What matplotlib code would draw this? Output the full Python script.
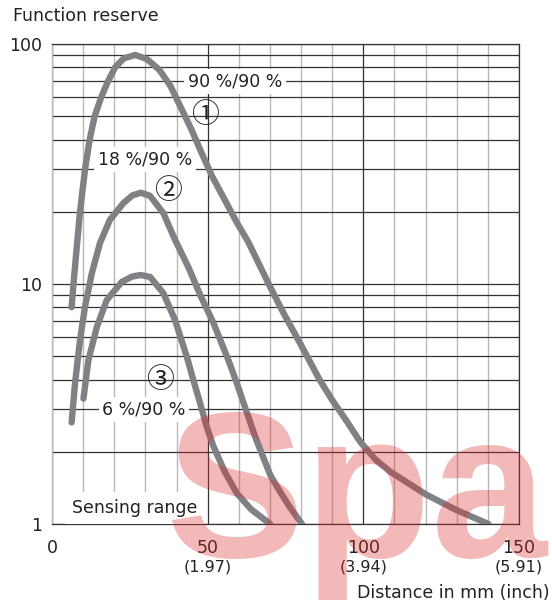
import matplotlib
matplotlib.use("Agg")
import matplotlib.pyplot as plt
from matplotlib.ticker import FixedLocator, NullFormatter

# ---------------- data ----------------
c1_x = [6.3, 6.9, 7.9, 9.0, 10.6, 12.1, 13.7, 15.8, 18.0, 20.3, 23.0, 26.7,
        30.5, 34.5, 38.0, 41.5, 44.8, 47.9, 51.5, 55.5, 59.4, 63.0, 66.5, 69.6,
        74.4, 79.7, 86.0, 89.9, 94.5, 99.0, 104.0, 108.7, 120.0,
        130.1, 140.2]
c1_y = [8.0, 10.0, 14.0, 20.0, 30.0, 40.0, 50.0, 60.0, 70.0, 80.0, 87.0, 90.0,
        86.5, 78.0, 67.0, 54.0, 44.0, 35.5, 28.0, 22.4, 18.0, 15.0, 12.1, 10.0,
        7.55, 5.66, 3.98, 3.3, 2.7, 2.2, 1.85, 1.65, 1.33,
        1.14, 1.0]

c2_x = [6.3, 7.4, 9.0, 10.6, 12.8, 15.4, 18.6, 22.9, 25.8, 28.5, 31.5, 35.8,
        39.5, 44.0, 47.6, 51.9, 56.7, 59.4, 65.3, 70.1, 73.3, 76.5, 80.3]
c2_y = [2.65, 3.86, 5.84, 8.04, 11.1, 14.8, 18.5, 21.7, 23.4, 24.0, 23.3, 19.7,
        15.3, 11.6, 9.0, 6.86, 4.8, 3.85, 2.3, 1.6, 1.36, 1.17, 1.0]

c3_x = [10.1, 11.7, 14.4, 17.6, 22.4, 25.8, 28.5, 31.5, 35.8, 39.5, 43.3,
        45.4, 47.6, 49.7, 51.9, 55.5, 59.4, 64.0, 70.1]
c3_y = [3.33, 4.82, 6.62, 8.58, 10.2, 10.75, 10.9, 10.7, 9.15, 7.08, 4.98,
        3.98, 3.18, 2.54, 2.1, 1.65, 1.34, 1.15, 1.0]

curve_labels = ["90 %/90 %", "18 %/90 %", "6 %/90 %"]
curve_marks = ["\u2460", "\u2461", "\u2462"]
x_ticks = [0, 50, 100, 150]
x_tick_labels = ["0", "50", "100", "150"]
x_inch_labels = ["(1.97)", "(3.94)", "(5.91)"]
y_ticks = [1, 10, 100]
y_tick_labels = ["1", "10", "100"]

# ---------------- style ----------------
plt.rcParams['font.family'] = ['DejaVu Sans', 'Noto Sans CJK JP']
W, H, DPI = 552, 607, 100
fig = plt.figure(figsize=(W / DPI, H / DPI), dpi=DPI)
ax = fig.add_axes([52 / W, 1 - 524 / H, 467 / W, 480 / H])

ax.set_yscale('log')
ax.set_xlim(0, 150)
ax.set_ylim(1, 100)

dark = '#333333'
light = '#b8b8b8'
curve_col = '#808185'
txt_col = '#222222'

# grid
ax.yaxis.set_major_locator(FixedLocator(y_ticks))
ax.yaxis.set_minor_locator(FixedLocator([m * d for d in (1, 10) for m in range(2, 10)]))
ax.yaxis.set_minor_formatter(NullFormatter())
ax.set_yticklabels(y_tick_labels)
ax.xaxis.set_major_locator(FixedLocator(x_ticks))
ax.xaxis.set_minor_locator(FixedLocator([v for v in range(10, 150, 10) if v % 50]))
ax.set_xticklabels(x_tick_labels)

ax.grid(True, axis='y', which='both', color=dark, lw=0.9, zorder=1)
ax.grid(True, axis='x', which='minor', color=light, lw=1.0, zorder=1)
ax.grid(True, axis='x', which='major', color=dark, lw=0.9, zorder=1)
ax.set_axisbelow(True)

ax.tick_params(axis='both', which='both', length=0, colors=txt_col, labelsize=12.5)
ax.tick_params(axis='x', pad=11)
ax.tick_params(axis='y', pad=7)

for s in ('top', 'right', 'bottom'):
    ax.spines[s].set_color(dark)
    ax.spines[s].set_linewidth(0.9)
ax.spines['left'].set_color(light)
ax.spines['left'].set_linewidth(1.0)

# curves
for xs, ys in ((c1_x, c1_y), (c2_x, c2_y), (c3_x, c3_y)):
    ax.plot(xs, ys, color=curve_col, lw=4.6, solid_capstyle='round',
            solid_joinstyle='round', zorder=4)

# labels with white boxes
box = dict(facecolor='white', edgecolor='none', pad=2.5)
ax.text(58.8, 70, curve_labels[0], ha='center', va='center', fontsize=12.5,
        color=txt_col, bbox=box, zorder=3)
ax.text(29.9, 32.9, curve_labels[1], ha='center', va='center', fontsize=12.5,
        color=txt_col, bbox=box, zorder=3)
ax.text(29.6, 3.0, curve_labels[2], ha='center', va='center', fontsize=12.5,
        color=txt_col, bbox=box, zorder=3)

mark_font = ['Noto Sans CJK JP', 'DejaVu Sans']
ax.text(49.2, 50.6, curve_marks[0], ha='center', va='center', fontsize=20,
        family=mark_font, color=txt_col, zorder=5)
ax.text(37.3, 24.4, curve_marks[1], ha='center', va='center', fontsize=20,
        family=mark_font, color=txt_col, zorder=5)
ax.text(34.7, 3.98, curve_marks[2], ha='center', va='center', fontsize=20,
        family=mark_font, color=txt_col, zorder=5)

ax.text(26.5, 1.166, "Sensing range", ha='center', va='center', fontsize=12.5,
        color=txt_col, bbox=dict(facecolor='white', edgecolor='none', pad=5),
        zorder=3)

# inch sub-labels
for xv, lab in zip(x_ticks[1:], x_inch_labels):
    ax.annotate(lab, xy=(xv, 0), xycoords=('data', 'axes fraction'),
                xytext=(0, -43 * 72 / DPI), textcoords='offset points',
                ha='center', va='center', fontsize=11.5, color=txt_col)

fig.text(13 / W, 1 - 16 / H, "Function reserve", ha='left', va='center',
         fontsize=12.5, color=txt_col)
fig.text(550 / W, 1 - 593 / H, "Distance in mm (inch)", ha='right', va='center',
         fontsize=12.5, color=txt_col)

# watermark
fig.text(166 / W, 1 - 557 / H, "Spa", ha='left', va='baseline', fontsize=150,
         family='Liberation Sans', fontweight='bold', color='#dc2828', alpha=0.33,
         zorder=10)

fig.savefig("out.png", dpi=DPI)
